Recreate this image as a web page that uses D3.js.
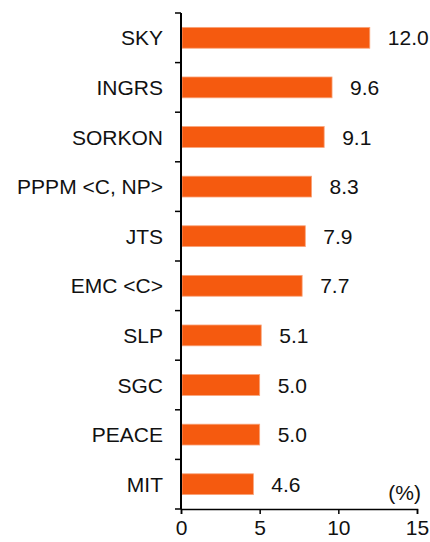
<!DOCTYPE html>
<html>
<head>
<meta charset="utf-8">
<script src="https://cdn.jsdelivr.net/npm/d3@7"></script>
<style>
  body { margin: 0; background: #fff; }
  text { font-family: "Liberation Sans", Arial, sans-serif; fill: #111; }
</style>
</head>
<body>
<div id="chart"></div>
<script>
const categories = ["SKY", "INGRS", "SORKON", "PPPM <C, NP>", "JTS", "EMC <C>", "SLP", "SGC", "PEACE", "MIT"];
const values = [12.0, 9.6, 9.1, 8.3, 7.9, 7.7, 5.1, 5.0, 5.0, 4.6];
const xTicks = [0, 5, 10, 15];

const W = 430, H = 542;
const margin = {top: 13, right: 13, bottom: 33, left: 181};
const fs = 21;

const svg = d3.select("#chart").append("svg")
  .attr("width", W).attr("height", H);

const x = d3.scaleLinear().domain([0, 15]).range([margin.left, W - margin.right]);
const y = d3.scaleBand().domain(categories).range([margin.top, H - margin.bottom]).paddingInner(0.58).paddingOuter(0.29);

// bars
svg.selectAll("rect.bar")
  .data(values)
  .enter().append("rect")
  .attr("class", "bar")
  .attr("x", x(0) + 1)
  .attr("y", (d, i) => y(categories[i]))
  .attr("width", d => x(d) - x(0) - 1)
  .attr("height", y.bandwidth())
  .attr("fill", "#f55a0f")
  .attr("stroke", "#f9a47a")
  .attr("stroke-width", 0.8);

// value labels
svg.selectAll("text.val")
  .data(values)
  .enter().append("text")
  .attr("class", "val")
  .attr("x", d => x(d) + 18)
  .attr("y", (d, i) => y(categories[i]) + y.bandwidth() / 2 + 7.5)
  .attr("font-size", fs)
  .text(d => d.toFixed(1));

// category labels
svg.selectAll("text.cat")
  .data(categories)
  .enter().append("text")
  .attr("class", "cat")
  .attr("x", margin.left - 18)
  .attr("y", d => y(d) + y.bandwidth() / 2 + 7.5)
  .attr("text-anchor", "end")
  .attr("font-size", fs)
  .text(d => d);

// y axis line + category boundary ticks
const y0 = margin.top, y1 = H - margin.bottom;
const step = (y1 - y0) / categories.length;
svg.append("line")
  .attr("x1", x(0)).attr("x2", x(0))
  .attr("y1", y0).attr("y2", y1)
  .attr("stroke", "#000").attr("stroke-width", 2);
svg.selectAll("line.ytick")
  .data(d3.range(categories.length + 1))
  .enter().append("line")
  .attr("class", "ytick")
  .attr("x1", x(0) - 6).attr("x2", x(0))
  .attr("y1", i => y0 + i * step).attr("y2", i => y0 + i * step)
  .attr("stroke", "#000").attr("stroke-width", 1.5);

// x axis
const xAxis = svg.append("g")
  .attr("transform", `translate(0,${y1})`)
  .call(d3.axisBottom(x).tickValues(xTicks).tickSize(5).tickPadding(6).tickFormat(d3.format("d")));
xAxis.select(".domain").attr("stroke", "#000").attr("stroke-width", 1.5);
xAxis.selectAll(".tick line").attr("stroke", "#000").attr("stroke-width", 1.5);
xAxis.selectAll(".tick text")
  .attr("font-family", "Liberation Sans, Arial, sans-serif")
  .attr("font-size", fs).attr("fill", "#111");

// unit label
svg.append("text")
  .attr("x", 421).attr("y", y1 - 9)
  .attr("text-anchor", "end")
  .attr("font-size", fs)
  .text("(%)");
</script>
</body>
</html>
